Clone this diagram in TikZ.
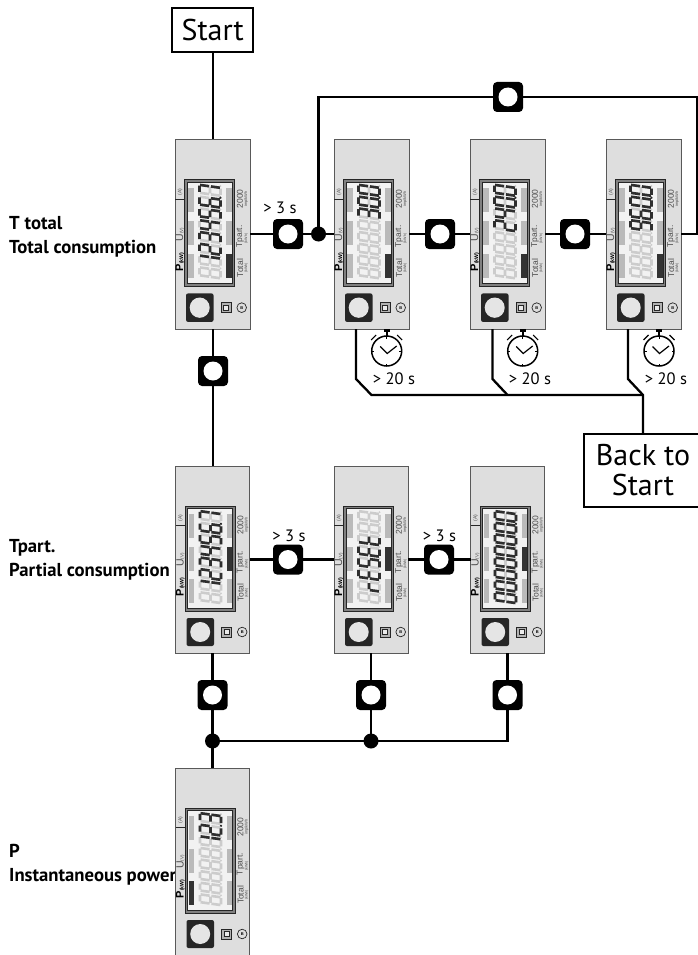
\documentclass[tikz,border=0pt]{standalone}
\usepackage{fontspec}
\setmainfont{PT Sans}
\newfontfamily\devfont{Liberation Sans}
\newcommand\fs[1]{\fontsize{#1}{#1}\selectfont}
% seven segments (u along the reading direction, v towards the top of the glyph)
\def\sA{(-3.1,10.5)--(3.1,10.5) }
\def\sB{(3.9,9.9)--(3.9,.9) }
\def\sC{(3.9,-.9)--(3.9,-9.9) }
\def\sD{(-3.1,-10.5)--(3.1,-10.5) }
\def\sE{(-3.9,-9.9)--(-3.9,-.9) }
\def\sF{(-3.9,.9)--(-3.9,9.9) }
\def\sG{(-3.1,0)--(3.1,0) }
\def\dEight{\sA\sB\sC\sD\sE\sF\sG}
\def\dZero{\sA\sB\sC\sD\sE\sF}
\def\dOne{\sB\sC}
\def\dTwo{\sA\sB\sG\sE\sD}
\def\dThree{\sA\sB\sG\sC\sD}
\def\dFour{\sF\sG\sB\sC}
\def\dFive{\sA\sF\sG\sC\sD}
\def\dSix{\sA\sF\sG\sE\sC\sD}
\def\dSeven{\sA\sB\sC}
\def\dNine{\sA\sB\sF\sG\sC\sD}
\def\dE{\sA\sF\sG\sE\sD}
\def\dR{\sE\sG}
\def\dT{\sF\sG\sE\sD}
\tikzset{
  conn/.style={line width=2.3pt,black},
  devbody/.style={draw=black!65,line width=1pt,fill=black!13,rectangle,inner sep=0pt,outer sep=0pt},
  keybox/.style={rectangle,rounded corners=4pt,fill=black,minimum width=30pt,minimum height=30pt,inner sep=0pt,outer sep=0pt},
  junction/.style={circle,fill=black,minimum size=15pt,inner sep=0pt,outer sep=0pt},
  termbox/.style={draw=black,line width=1.8pt,fill=white,rectangle,inner sep=0pt,outer sep=0pt,align=center},
  rowlabel/.style={anchor=base west,inner sep=0pt,font=\fs{18.7}\bfseries},
  timelabel/.style={anchor=base,inner sep=0pt,font=\fs{16.5}},
  devtext/.style={rotate=90,inner sep=0pt,text=black!70,font=\devfont},
  litseg/.style={line width=2.6pt,draw=black!82},
  offseg/.style={line width=2.6pt,draw=black!20},
}
% name, x, y, w, h, dark bar x, dark bar y, lit dot position, lit digits
\newcommand\device[9]{%
  \node[devbody,anchor=north west,minimum width=#4pt,minimum height=#5pt] (#1) at (#2,#3) {};
  \pgfmathsetmacro\ysc{#5/187}
  \begin{scope}[shift={(#2,#3)},yscale=\ysc]
    \filldraw[draw=black!85,line width=.8pt,fill=black!50] (9.5,40) rectangle (59.5,145);
    \filldraw[draw=black!85,line width=.8pt,fill=black!5] (12,42.5) rectangle (57,142.5);
    \foreach \by in {48,81,113}{
      \fill[black!27] (13,\by) rectangle (18.5,\by+23.5);
      \fill[black!27] (51,\by) rectangle (56.5,\by+23.5);
    }
    \fill[black!80] (#6,#7) rectangle (#6+5.5,#7+23.5);
    \foreach \i in {1,...,8}{
      \pgfmathsetmacro\cy{137.5-(\i-.5)*11.6}
      \begin{scope}[shift={(35,\cy)},x={(0pt,1pt)},y={(-1pt,.14pt)}]
        \draw[offseg] \dEight;
        \fill[black!20] (5.8,-10.5) circle (1);
      \end{scope}
    }
    \foreach \i/\s in {#9}{
      \pgfmathsetmacro\cy{137.5-(\i-.5)*11.6}
      \begin{scope}[shift={(35,\cy)},x={(0pt,1pt)},y={(-1pt,.14pt)}]
        \draw[litseg] \s;
      \end{scope}
    }
    \ifnum#8>0
      \pgfmathsetmacro\cy{137.5-(#8-.5)*11.6}
      \begin{scope}[shift={(35,\cy)},x={(0pt,1pt)},y={(-1pt,.14pt)}]
        \fill[black!85] (5.8,-10.5) circle (1.2);
      \end{scope}
    \fi
    \draw[black!85,line width=.7pt] (0,59) -- (9.5,59);
    \node[devtext] at (5,52) {\fs{5}(A)};
    \node[devtext] at (5,94) {\fs{10.5}U\fs{4.5}(V)};
    \node[devtext,text=black] at (4.8,121) {\fs{11}\bfseries P\fs{5.2}(kW)};
    \node[devtext] at (65,59) {\fs{8.5}2000};
    \node[devtext] at (71.2,59) {\fs{4}imp/kWh};
    \node[devtext] at (65,96) {\fs{8.5}Tpart.};
    \node[devtext] at (71.2,98) {\fs{3.6}(kWh)};
    \node[devtext] at (65,127) {\fs{8.5}Total};
    \node[devtext] at (71.2,127) {\fs{3.6}(kWh)};
    \fill[black!85,rounded corners=2pt] (11,152) rectangle (38.5,180);
    \fill[black!10] (24.7,166) circle (10);
    \filldraw[draw=black!85,line width=.8pt,fill=black!30] (46,161) rectangle (56,171);
    \filldraw[draw=black!85,line width=.8pt,fill=black!8] (48.5,163.5) rectangle (53.5,168.5);
    \draw[black!85,line width=.7pt] (66.7,166) circle (4.8);
    \node[inner sep=0pt,font=\devfont\fs{4}\bfseries] at (66.7,166) {B};
  \end{scope}
}
\newcommand\keynode[3]{%
  \node[keybox] (#1) at (#2,#3) {};
  \fill[white] (#1) circle (9.5);
}
\newcommand\stopclock[2]{%
  \begin{scope}[shift={(#1,#2)}]
    \draw[black,line width=1.5pt] (0,0) circle (15);
    \fill[black] (-1.2,-15) rectangle (1.2,-19);
    \fill[black] (-3.2,-22) rectangle (3.2,-19.5);
    \draw[black,line width=1.1pt] (-15.5,-11) -- (-10.5,-16);
    \draw[black,line width=1.1pt] (15.5,-11) -- (10.5,-16);
    \draw[black,line width=.9pt] (-15,0) -- (-12.5,0) (15,0) -- (12.5,0) (0,15) -- (0,12.5) (0,-15) -- (0,-12.5);
    \draw[black,line width=1.2pt] (-6.5,-4.5) -- (.5,2.5) -- (10,-5);
  \end{scope}
}
\begin{document}
\begin{tikzpicture}[x=1pt,y=-1pt]
\clip (0,0) rectangle (698,955);
% row labels
\node[rowlabel] at (9,229) {T total};
\node[rowlabel] at (9,253) {Total consumption};
\node[rowlabel] at (9,552) {Tpart.};
\node[rowlabel] at (9,576) {Partial consumption};
\node[rowlabel] at (9,857) {P};
\node[rowlabel] at (9,881) {Instantaneous power};
% devices
\device{dA}{175}{139}{75}{190}{51}{113}{7}{2/\dOne,3/\dTwo,4/\dThree,5/\dFour,6/\dFive,7/\dSix,8/\dSeven}
\device{dB}{334}{139}{75}{190}{51}{113}{7}{6/\dThree,7/\dZero,8/\dZero}
\device{dC}{470}{139}{75}{190}{51}{113}{7}{5/\dTwo,6/\dFour,7/\dZero,8/\dZero}
\device{dD}{606}{139}{75}{190}{51}{113}{7}{5/\dNine,6/\dSix,7/\dZero,8/\dZero}
\device{dE}{175.5}{466}{74}{187}{51}{81}{7}{2/\dOne,3/\dTwo,4/\dThree,5/\dFour,6/\dFive,7/\dSix,8/\dSeven}
\device{dF}{334}{466}{74}{187}{51}{81}{0}{2/\dR,3/\dE,4/\dFive,5/\dE,6/\dT}
\device{dG}{470.5}{466}{74}{187}{51}{81}{7}{1/\dZero,2/\dZero,3/\dZero,4/\dZero,5/\dZero,6/\dZero,7/\dZero,8/\dZero}
\device{dH}{175.5}{768}{74}{187}{13}{113}{7}{6/\dOne,7/\dTwo,8/\dThree}
% terminals
\node[termbox,minimum width=81pt,minimum height=44pt,font=\fs{30}] (start) at (212.7,30) {Start};
\node[termbox,minimum width=118pt,minimum height=73pt,font=\fs{30}] (back) at (643,470.5) {\fontsize{30}{31}\selectfont Back to\\Start};
% keys and junctions
\keynode{kA}{288}{234}
\keynode{kB}{440}{234}
\keynode{kC}{575}{234}
\keynode{kLoop}{508}{97}
\keynode{kDown}{213}{371}
\keynode{kE}{288}{559.5}
\keynode{kF}{439}{559.5}
\keynode{kG}{212.5}{695}
\keynode{kH}{371}{695}
\keynode{kI}{507.5}{695}
\node[junction] (jA) at (318.5,234) {};
\node[junction] (jB) at (212.5,741) {};
\node[junction] (jC) at (371,741) {};
% named bends
\coordinate (loopNW) at (318.5,97);
\coordinate (loopNE) at (697,97);
\coordinate (loopSE) at (697,234);
\coordinate (busI) at (507.5,741);
\coordinate (tB1) at (356,379);
\coordinate (tB2) at (371.5,395);
\coordinate (tC1) at (492.5,379);
\coordinate (tC2) at (507.5,395);
\coordinate (tD1) at (628,379);
\coordinate (tD2) at (643,395);
% connectors
\draw[conn] (start.south) -- (start.south |- dA.north);
\draw[conn] (dA.east) -- (kA.west);
\draw[conn] (kA.east) -- (jA.center) -- (dB.west);
\draw[conn] (dB.east) -- (kB.west);
\draw[conn] (kB.east) -- (dC.west);
\draw[conn] (dC.east) -- (kC.west);
\draw[conn] (kC.east) -- (dD.west);
\draw[conn] (jA.center) -- (loopNW) -- (kLoop.west);
\draw[conn] (kLoop.east) -- (loopNE) -- (loopSE) -- (dD.east);
\draw[conn] (dA.south -| kDown) -- (kDown.north);
\draw[conn] (kDown.south) -- (kDown.south |- dE.north);
\draw[conn] (dE.east) -- (kE.west);
\draw[conn] (kE.east) -- (dF.west);
\draw[conn] (dF.east) -- (kF.west);
\draw[conn] (kF.east) -- (dG.west);
\draw[conn] (dE.south -| kG) -- (kG.north);
\draw[conn] (dF.south -| kH) -- (kH.north);
\draw[conn] (dG.south -| kI) -- (kI.north);
\draw[conn] (kG.south) -- (jB.center) -- (jB.center |- dH.north);
\draw[conn] (kH.south) -- (jC.center);
\draw[conn,line join=miter] (kI.south) -- (busI) -- (jC.center) -- (jB.center);
\draw[conn] (dB.south -| tB1) -- (tB1) -- (tB2) -- (tD2);
\draw[conn] (dC.south -| tC1) -- (tC1) -- (tC2);
\draw[conn] (dD.south -| tD1) -- (tD1) -- (tD2) -- (back.north -| tD2);
% clocks and times
\stopclock{386.7}{351}
\stopclock{522.7}{351}
\stopclock{659}{351}
\node[timelabel] at (394,384) {> 20 s};
\node[timelabel] at (530,384) {> 20 s};
\node[timelabel] at (666,384) {> 20 s};
\node[timelabel] at (280,213) {> 3 s};
\node[timelabel] at (289,541) {> 3 s};
\node[timelabel] at (439.5,541) {> 3 s};
\end{tikzpicture}
\end{document}
